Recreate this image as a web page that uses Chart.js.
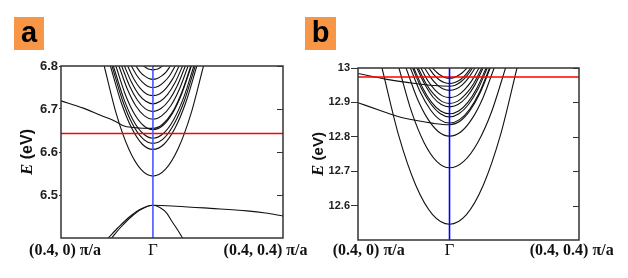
<!DOCTYPE html>
<html>
<head>
<meta charset="utf-8">
<script src="https://cdn.jsdelivr.net/npm/chart.js@4.4.1/dist/chart.umd.min.js"></script>
<style>
  html, body { margin: 0; padding: 0; background: #fff; width: 628px; height: 278px; overflow: hidden; }
  #wrap { position: relative; width: 628px; height: 278px; }
  canvas { position: absolute; top: 0; }
  #ca { left: 0; }
  #cb { left: 300px; }
  .tag { position: absolute; top: 17px; height: 33px; background: #f79646; color: #000;
         font: bold 29px "Liberation Sans", Arial, sans-serif; text-align: center; line-height: 31px; }
</style>
</head>
<body>
<div id="wrap">
  <canvas id="ca" width="322" height="278"></canvas>
  <canvas id="cb" width="328" height="278"></canvas>
  <div class="tag" style="left:14px;width:30px">a</div>
  <div class="tag" style="left:305px;width:31px">b</div>
</div>
<script>
// k along the path: negative towards (0.4,0), positive towards (0.4,0.4), Gamma at 0
const kStart = -0.4, kEnd = 0.566;
const xLabels = ['(0.4, 0) π/a', 'Γ', '(0.4, 0.4) π/a'];
const xLabelK = [kStart, 0, kEnd];

const yTicksA = [6.5, 6.6, 6.7, 6.8];
const yTicksB = [12.6, 12.7, 12.8, 12.9, 13];
const fermiA = 6.643;
const fermiB = 12.974;

// panel a, conduction subbands [k, E]
const a1 = [[-0.212,6.8],[-0.159,6.688],[-0.106,6.608],[-0.053,6.560],[0,6.544],[0.055,6.560],[0.110,6.608],[0.165,6.688],[0.220,6.8]];
const a2 = [[-0.185,6.8],[-0.138,6.715],[-0.092,6.655],[-0.046,6.618],[0,6.606],[0.048,6.618],[0.096,6.655],[0.143,6.715],[0.191,6.8]];
const a3 = [[-0.178,6.8],[-0.133,6.721],[-0.089,6.665],[-0.044,6.631],[0,6.620],[0.046,6.631],[0.092,6.665],[0.138,6.721],[0.184,6.8]];
const a4 = [[-0.172,6.8],[-0.129,6.727],[-0.086,6.674],[-0.043,6.643],[0,6.632],[0.045,6.643],[0.089,6.674],[0.134,6.727],[0.178,6.8]];
const a5 = [[-0.400,6.719],[-0.303,6.702],[-0.231,6.686],[-0.158,6.670],[-0.129,6.661],[-0.086,6.657],[0,6.655],[0.041,6.664],[0.083,6.691],[0.124,6.737],[0.165,6.8]];
const a6 = [[-0.161,6.8],[-0.121,6.735],[-0.081,6.689],[-0.040,6.661],[0,6.652],[0.042,6.661],[0.084,6.689],[0.125,6.735],[0.167,6.8]];
const a7 = [[-0.148,6.8],[-0.111,6.746],[-0.074,6.707],[-0.037,6.684],[0,6.676],[0.038,6.684],[0.077,6.707],[0.115,6.746],[0.153,6.8]];
const a8 = [[-0.136,6.8],[-0.102,6.754],[-0.068,6.721],[-0.034,6.701],[0,6.694],[0.035,6.701],[0.071,6.721],[0.106,6.754],[0.141,6.8]];
const a9 = [[-0.124,6.8],[-0.093,6.762],[-0.062,6.734],[-0.031,6.718],[0,6.712],[0.032,6.718],[0.064,6.734],[0.097,6.762],[0.129,6.8]];
const a10 = [[-0.110,6.8],[-0.083,6.770],[-0.055,6.748],[-0.028,6.735],[0,6.731],[0.029,6.735],[0.057,6.748],[0.086,6.770],[0.114,6.8]];
const a11 = [[-0.094,6.8],[-0.070,6.778],[-0.047,6.763],[-0.023,6.753],[0,6.750],[0.024,6.753],[0.049,6.763],[0.073,6.778],[0.097,6.8]];
const a12 = [[-0.074,6.8],[-0.055,6.786],[-0.037,6.777],[-0.018,6.771],[0,6.769],[0.019,6.771],[0.038,6.777],[0.057,6.786],[0.076,6.8]];
const a13 = [[-0.040,6.8],[-0.030,6.796],[-0.020,6.793],[-0.010,6.792],[0,6.791],[0.010,6.792],[0.021,6.793],[0.031,6.796],[0.041,6.8]];
// panel a, valence bands
const av1 = [[-0.194,6.4],[-0.15,6.425],[-0.1,6.450],[-0.05,6.468],[0,6.476],[0.1,6.474],[0.25,6.469],[0.41,6.463],[0.49,6.458],[0.566,6.451]];
const av2 = [[-0.18,6.4],[-0.14,6.425],[-0.093,6.450],[-0.046,6.468],[0,6.476],[0.03,6.471],[0.06,6.458],[0.081,6.440],[0.105,6.421],[0.129,6.4]];

// panel b subbands
const b1 = [[-0.295,13],[-0.221,12.801],[-0.148,12.660],[-0.074,12.574],[0,12.546],[0.074,12.574],[0.148,12.660],[0.221,12.801],[0.295,13]];
const b2 = [[-0.221,13],[-0.166,12.873],[-0.111,12.783],[-0.055,12.728],[0,12.710],[0.061,12.728],[0.123,12.783],[0.184,12.873],[0.245,13]];
const b3 = [[-0.190,13],[-0.142,12.913],[-0.095,12.852],[-0.047,12.814],[0,12.802],[0.049,12.814],[0.098,12.852],[0.146,12.913],[0.195,13]];
const b4 = [[-0.4,12.899],[-0.3,12.876],[-0.229,12.860],[-0.15,12.848],[-0.07,12.839],[0,12.835],[0.045,12.845],[0.089,12.876],[0.134,12.928],[0.178,13]];
const b5 = [[-0.171,13],[-0.128,12.930],[-0.085,12.880],[-0.043,12.850],[0,12.840],[0.044,12.850],[0.088,12.880],[0.132,12.930],[0.175,13]];
const b6 = [[-0.161,13],[-0.121,12.938],[-0.080,12.894],[-0.040,12.867],[0,12.858],[0.041,12.867],[0.083,12.894],[0.124,12.938],[0.165,13]];
const b7 = [[-0.156,13],[-0.117,12.942],[-0.078,12.900],[-0.039,12.875],[0,12.867],[0.040,12.875],[0.080,12.900],[0.120,12.942],[0.160,13]];
const b8 = [[-0.143,13],[-0.107,12.951],[-0.072,12.915],[-0.036,12.894],[0,12.887],[0.037,12.894],[0.074,12.915],[0.111,12.951],[0.147,13]];
const b9 = [[-0.137,13],[-0.103,12.955],[-0.068,12.923],[-0.034,12.903],[0,12.897],[0.035,12.903],[0.070,12.923],[0.106,12.955],[0.141,13]];
const b10 = [[-0.125,13],[-0.094,12.962],[-0.063,12.936],[-0.031,12.919],[0,12.914],[0.032,12.919],[0.064,12.936],[0.096,12.962],[0.129,13]];
const b11 = [[-0.109,13],[-0.082,12.972],[-0.054,12.951],[-0.027,12.939],[0,12.935],[0.028,12.939],[0.056,12.951],[0.084,12.972],[0.112,13]];
const b12 = [[-0.4,12.984],[-0.273,12.967],[-0.15,12.955],[-0.069,12.949],[0,12.947],[0.025,12.950],[0.050,12.960],[0.076,12.977],[0.101,13]];
const b13 = [[-0.090,13],[-0.068,12.980],[-0.045,12.966],[-0.023,12.958],[0,12.955],[0.023,12.958],[0.047,12.966],[0.070,12.980],[0.093,13]];
const b14 = [[-0.074,13],[-0.055,12.987],[-0.037,12.978],[-0.018,12.972],[0,12.970],[0.019,12.972],[0.038,12.978],[0.057,12.987],[0.076,13]];

const bandsA = [a1, a2, a3, a4, a5, a6, a7, a8, a9, a10, a11, a12, a13, av1, av2];
const bandsB = [b1, b2, b3, b4, b5, b6, b7, b8, b9, b10, b11, b12, b13, b14];


function bandSets(bands) {
  return bands.map(b => ({
    data: b.map(([x, y]) => ({ x, y })),
    borderColor: '#111',
    borderWidth: 1.1,
    pointRadius: 0,
    cubicInterpolationMode: 'monotone',
    fill: false,
  }));
}

function guideSets(eF, yMin, yMax, blue) {
  return [
    { data: [{ x: 0, y: yMin }, { x: 0, y: yMax }], borderColor: blue, borderWidth: 1.6, pointRadius: 0 },
    { data: [{ x: kStart, y: eF }, { x: kEnd, y: eF }], borderColor: '#ff0000', borderWidth: 1.5, pointRadius: 0 },
  ];
}

// frame, inward right ticks, axis title and path labels
const framePlugin = {
  id: 'frame',
  afterDatasetsDraw(chart, args, o) {
    const { ctx, chartArea: c, scales: { y } } = chart;
    ctx.save();
    ctx.strokeStyle = '#333';
    ctx.lineWidth = 1.5;
    ctx.strokeRect(c.left, c.top, c.right - c.left, c.bottom - c.top);
    ctx.lineWidth = 1;
    o.ticks.forEach(v => {
      const py = Math.round(y.getPixelForValue(v)) + 0.5;
      ctx.beginPath();
      ctx.moveTo(c.right - 6, py);
      ctx.lineTo(c.right, py);
      ctx.stroke();
    });
    ctx.restore();
  },
  afterDraw(chart, args, o) {
    const { ctx, chartArea: c, scales: { x } } = chart;
    ctx.save();
    ctx.fillStyle = '#111';
    ctx.textBaseline = 'middle';
    // E (eV)
    const cy = (c.top + c.bottom) / 2;
    ctx.translate(c.left + o.titleDx, cy);
    ctx.rotate(-Math.PI / 2);
    const fE = 'italic bold 17px "Liberation Serif", "Times New Roman", serif';
    const fR = 'bold ' + o.titleSize + 'px "Liberation Sans", Arial, sans-serif';
    ctx.font = fE;
    const wE = ctx.measureText('E').width;
    ctx.font = fR;
    const wR = ctx.measureText(' (eV)').width;
    let sx = -(wE + wR) / 2;
    ctx.textAlign = 'left';
    ctx.font = fE;
    ctx.fillText('E', sx, 0);
    ctx.font = fR;
    ctx.fillText(' (eV)', sx + wE, 0);
    ctx.restore();

    ctx.save();
    ctx.fillStyle = '#111';
    ctx.textAlign = 'center';
    ctx.textBaseline = 'middle';
    xLabels.forEach((t, i) => {
      ctx.font = i === 1 ? '17px "Liberation Serif", serif' : 'bold 16px "Liberation Serif", "Times New Roman", serif';
      ctx.fillText(t, x.getPixelForValue(xLabelK[i]) + o.xOff[i], o.labelY);
    });
    ctx.restore();
  },
};

function makeChart(id, bands, eF, yMin, yMax, ticks, blue, p) {
  return new Chart(document.getElementById(id), {
    type: 'line',
    data: { datasets: guideSets(eF, yMin, yMax, blue).concat(bandSets(bands)) },
    options: {
      responsive: false,
      animation: false,
      layout: { padding: p.padding },
      plugins: {
        legend: { display: false },
        tooltip: { enabled: false },
        frame: { ticks, titleDx: p.titleDx, titleSize: p.titleSize, xOff: p.xOff, labelY: 251 },
      },
      scales: {
        x: { type: 'linear', min: kStart, max: kEnd, display: false },
        y: {
          min: yMin,
          max: yMax,
          afterBuildTicks: s => { s.ticks = ticks.map(v => ({ value: v })); },
          afterFit: s => { s.width = p.axisW; },
          border: { display: false },
          grid: { drawOnChartArea: false, tickLength: p.tickLen, color: '#333' },
          ticks: {
            padding: 1,
            color: '#222',
            font: { family: '"Liberation Sans", Arial, sans-serif', weight: 'bold', size: p.tickSize },
            callback: v => (v === 13 ? '13' : v.toFixed(1)),
          },
        },
      },
    },
    plugins: [framePlugin],
  });
}

makeChart('ca', bandsA, fermiA, 6.4, 6.8, yTicksA, '#4a55ff', {
  padding: { left: 0, right: 39, top: 66, bottom: 40 },
  axisW: 61, tickLen: 2, tickSize: 13, titleDx: -33, titleSize: 16, xOff: [4, 0, -17.5],
});

makeChart('cb', bandsB, fermiB, 12.5, 13, yTicksB, '#0000ff', {
  padding: { left: 0, right: 49, top: 68, bottom: 38 },
  axisW: 58, tickLen: 7, tickSize: 11, titleDx: -39, titleSize: 15, xOff: [10.7, 0, -7.3],
});
</script>
</body>
</html>
